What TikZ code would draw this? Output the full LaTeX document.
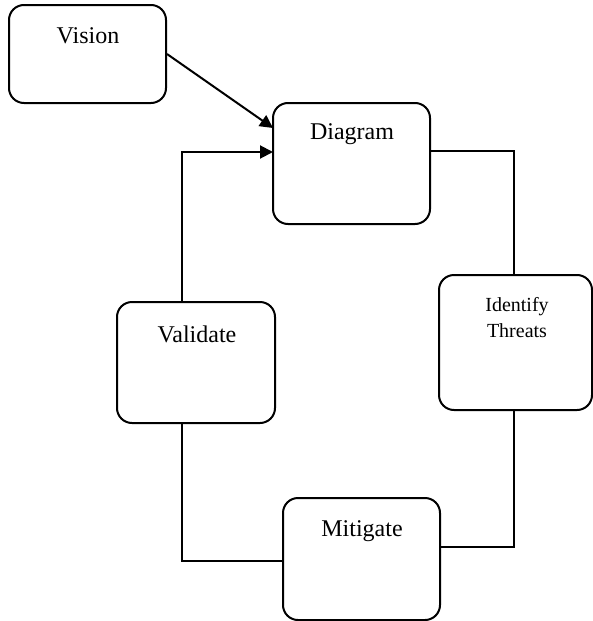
\documentclass[tikz,border=0pt]{standalone}
\usepackage{fontspec}
\setmainfont{Liberation Serif}
\usetikzlibrary{arrows.meta}
\begin{document}
\begin{tikzpicture}[x=0.5pt,y=-0.5pt,
  stage/.style={draw=black,line width=1pt,rounded corners=7.5pt,inner sep=0pt},
  caption/.style={font=\fontsize{12}{14}\selectfont,inner sep=0pt},
  smallcaption/.style={font=\fontsize{10}{13}\selectfont,inner sep=0pt,align=center},
  link/.style={line width=1pt},
  arrowlink/.style={line width=1pt,-{Triangle[length=6.5pt,width=6.5pt]}}]
\useasboundingbox (0,0) rectangle (593,621);

% process stages
\node[stage,minimum width=78.5pt,minimum height=49pt] (vision) at (87.5,54) {};
\node[stage,minimum width=78.5pt,minimum height=60.5pt] (diagram) at (351.5,163.5) {};
\node[stage,minimum width=76.5pt,minimum height=67.5pt] (threats) at (515.5,342.5) {};
\node[stage,minimum width=79pt,minimum height=60.5pt] (validate) at (196,362.5) {};
\node[stage,minimum width=78.5pt,minimum height=61pt] (mitigate) at (361.5,559) {};

% stage titles
\node[caption] (visiontext) at (88,36) {Vision};
\node[caption] (diagramtext) at (352,134) {Diagram};
\node[smallcaption] (threatstext) at (517,318) {Identify\\Threats};
\node[caption] (validatetext) at (197,334) {Validate};
\node[caption] (mitigatetext) at (362,531) {Mitigate};

% routing points
\coordinate (diagramin1) at (273,128);
\coordinate (diagramin2) at (273,152);
\coordinate (diagramout) at (430,151);
\coordinate (rightrail) at (514,0);
\coordinate (leftrail) at (182,0);
\coordinate (mitigatein) at (440,547);
\coordinate (mitigateout) at (283,561);

% connectors
\draw[arrowlink] (vision.east) -- (diagramin1);
\draw[link] (diagramout) -| (threats.north -| rightrail);
\draw[link] (threats.south -| rightrail) |- (mitigatein);
\draw[link] (mitigateout) -| (validate.south -| leftrail);
\draw[arrowlink] (validate.north -| leftrail) |- (diagramin2);
\end{tikzpicture}
\end{document}
